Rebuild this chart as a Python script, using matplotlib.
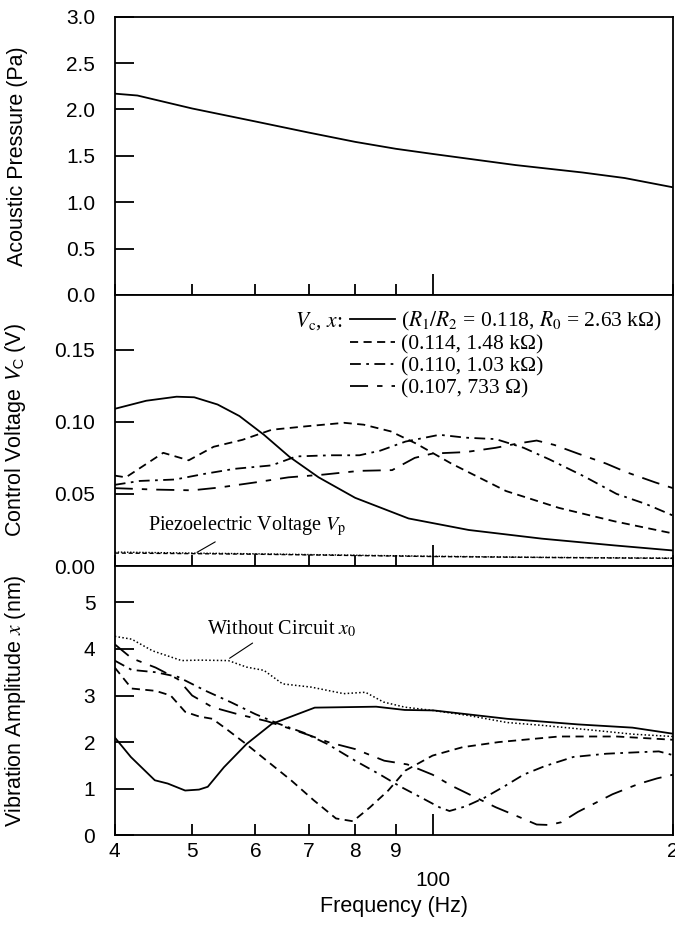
import matplotlib
matplotlib.use("Agg")
import matplotlib.pyplot as plt
from matplotlib.ticker import FixedLocator, FixedFormatter, FormatStrFormatter

plt.rcParams['font.family'] = ['Liberation Sans', 'DejaVu Sans']
plt.rcParams['mathtext.fontset'] = 'stix'

# ---- top panel: acoustic pressure
f_p = [40, 42.7, 50, 60, 70, 80, 90, 100, 127, 154, 174, 200]
pressure = [2.17, 2.15, 2.01, 1.87, 1.75, 1.65, 1.575, 1.52, 1.40, 1.32, 1.26, 1.16]

# ---- middle panel: control voltage for the four circuits
f_v1 = [40, 43.8, 47.8, 50.3, 53.8, 57.3, 61.5, 66.2, 72, 80, 93.3, 111, 137, 169, 200]
vc1 = [0.109, 0.1146, 0.1174, 0.117, 0.112, 0.104, 0.091, 0.0757, 0.0615, 0.0473,
       0.033, 0.025, 0.019, 0.0143, 0.0108]
f_v2 = [40, 41.3, 46, 49.5, 53.2, 57.8, 62.9, 69.8, 77.5, 82, 88.6, 95.3, 105.6, 123.6, 144, 169, 200]
vc2 = [0.0627, 0.0615, 0.0785, 0.0733, 0.0827, 0.0875, 0.0945, 0.097, 0.0993, 0.098,
       0.0934, 0.085, 0.071, 0.052, 0.0403, 0.031, 0.0226]
f_v3 = [40, 43, 47.6, 51.8, 56.5, 62.9, 67.5, 74.5, 81, 86, 92.5, 102, 110, 120, 130, 140, 155, 170, 185, 200]
vc3 = [0.0563, 0.059, 0.060, 0.0639, 0.0674, 0.0698, 0.076, 0.0768, 0.0768, 0.080,
       0.0863, 0.091, 0.089, 0.088, 0.082, 0.074, 0.062, 0.050, 0.043, 0.035]
f_v4 = [40, 45, 50, 54, 60, 66, 73, 81, 89, 95, 100, 110, 120, 128, 135, 142, 152, 165, 175, 190, 200]
vc4 = [0.054, 0.053, 0.0525, 0.0544, 0.058, 0.0615, 0.0634, 0.066, 0.0665, 0.075, 0.078,
       0.079, 0.082, 0.085, 0.087, 0.084, 0.078, 0.071, 0.065, 0.058, 0.054]
f_vp = [40, 50, 60, 80, 100, 140, 200]
vp_a = [0.0097, 0.0090, 0.0085, 0.0075, 0.0068, 0.0060, 0.0055]
vp_b = [0.0090, 0.0086, 0.0082, 0.0073, 0.0066, 0.0059, 0.0053]

# ---- bottom panel: vibration amplitude
f_x0 = [40, 42, 44.6, 48.5, 51, 55.5, 58.5, 61.5, 64.9, 70.5, 77.4, 82.4, 86.8, 92.3,
        100, 111, 124, 137, 160, 178, 200]
x0 = [4.27, 4.21, 3.96, 3.75, 3.76, 3.75, 3.61, 3.54, 3.25, 3.18, 3.04, 3.07, 2.86, 2.75,
      2.68, 2.57, 2.42, 2.36, 2.25, 2.17, 2.12]
f_x1 = [40, 41.9, 44.9, 46.6, 49, 51, 52.3, 54.8, 58.5, 62.9, 71.2, 85, 92.3, 100.3,
        124, 152, 178, 200]
x1 = [2.1, 1.68, 1.18, 1.11, 0.96, 0.98, 1.04, 1.46, 1.96, 2.39, 2.74, 2.76, 2.69, 2.68,
      2.5, 2.38, 2.31, 2.18]
f_x2 = [40, 42, 45, 47, 49, 51, 53, 55, 58.5, 62, 66.5, 71, 75.7, 79.5, 83.5, 88, 92.5,
        100, 109, 121, 144, 170, 200]
x2 = [3.6, 3.15, 3.1, 3.0, 2.65, 2.55, 2.5, 2.3, 1.95, 1.6, 1.18, 0.75, 0.36, 0.3, 0.6,
      0.96, 1.39, 1.71, 1.89, 2.0, 2.12, 2.12, 2.05]
f_x3 = [40, 42, 45, 48, 52, 56, 60, 64, 69, 74, 80, 86, 91, 97, 102, 105, 110, 116, 123,
        130, 138, 150, 165, 180, 192, 200]
x3 = [3.75, 3.55, 3.5, 3.4, 3.1, 2.85, 2.6, 2.4, 2.2, 1.95, 1.6, 1.3, 1.05, 0.8, 0.6,
      0.52, 0.62, 0.8, 1.05, 1.3, 1.48, 1.68, 1.75, 1.78, 1.8, 1.72]
f_x4 = [40, 42, 45, 48, 50, 53, 57, 62, 66, 70, 74, 80, 87, 93, 100, 106, 112, 120, 128,
        135, 140, 145, 152, 168, 181, 191, 200]
x4 = [4.1, 3.8, 3.6, 3.35, 3.0, 2.75, 2.6, 2.45, 2.3, 2.15, 2.0, 1.85, 1.6, 1.52, 1.3,
      1.05, 0.85, 0.6, 0.4, 0.23, 0.22, 0.28, 0.5, 0.88, 1.1, 1.22, 1.3]

legend_labels = ['($R_1/R_2$ = 0.118, $R_0$ = 2.63 k\u03a9)',
                 '(0.114, 1.48 k\u03a9)',
                 '(0.110, 1.03 k\u03a9)',
                 '(0.107, 733 \u03a9)']

styles = ['-', (0, (4.5, 3)), (0, (6, 3, 1.5, 3)), (0, (10, 5, 3, 5))]
serif = ['Liberation Serif', 'DejaVu Serif']

fig, (ax1, ax2, ax3) = plt.subplots(3, 1, figsize=(6.75, 9.27), dpi=100, sharex=True,
                                    gridspec_kw=dict(height_ratios=[278, 271, 269], hspace=0))
fig.subplots_adjust(left=0.170, right=0.997, top=0.982, bottom=0.099)

ax1.plot(f_p, pressure, color='k', lw=1.3)

lines = []
for fv, vv, ls in zip([f_v1, f_v2, f_v3, f_v4], [vc1, vc2, vc3, vc4], styles):
    ln, = ax2.plot(fv, vv, color='k', lw=1.3, linestyle=ls)
    lines.append(ln)
ax2.plot(f_vp, vp_a, color='k', lw=1.0, linestyle=(0, (1, 1.2)))
ax2.plot(f_vp, vp_b, color='k', lw=1.0, linestyle=(0, (3, 2)))

ax3.plot(f_x0, x0, color='k', lw=1.1, linestyle=(0, (1, 1.5)))
for fx, xx, ls in zip([f_x1, f_x2, f_x3, f_x4], [x1, x2, x3, x4], styles):
    ax3.plot(fx, xx, color='k', lw=1.3, linestyle=ls)

ax3.set_xscale('log')
ax3.set_xlim(40, 200)
ax3.xaxis.set_major_locator(FixedLocator([100]))
ax3.xaxis.set_major_formatter(FixedFormatter(['100']))
ax3.xaxis.set_minor_locator(FixedLocator([40, 50, 60, 70, 80, 90, 200]))
ax3.xaxis.set_minor_formatter(FixedFormatter(['4', '5', '6', '7', '8', '9', '2']))

ax1.set_ylim(0, 3.0)
ax1.set_yticks([0, 0.5, 1.0, 1.5, 2.0, 2.5, 3.0])
ax1.yaxis.set_major_formatter(FormatStrFormatter('%.1f'))
ax2.set_ylim(0, 0.188)
ax2.set_yticks([0, 0.05, 0.10, 0.15])
ax2.yaxis.set_major_formatter(FormatStrFormatter('%.2f'))
ax3.set_ylim(0, 5.78)
ax3.set_yticks([0, 1, 2, 3, 4, 5])

for ax in (ax1, ax2, ax3):
    for sp in ax.spines.values():
        sp.set_linewidth(1.3)
    ax.tick_params(which='both', direction='in', top=False, right=False, width=1.3,
                   labelsize=15)
    ax.tick_params(axis='y', length=14, pad=14)
    ax.tick_params(axis='x', which='major', length=15, pad=26)
    ax.tick_params(axis='x', which='minor', length=8, pad=5)
    ax.yaxis.set_label_coords(-0.155, 0.5)

ax1.set_ylabel('Acoustic Pressure (Pa)', fontsize=15.5)
ax2.set_ylabel('Control Voltage $V_{\\rm C}$ (V)', fontsize=15.5, math_fontfamily='stixsans')
ax3.set_ylabel('Vibration Amplitude $x$ (nm)', fontsize=15.5)
ax3.set_xlabel('Frequency (Hz)', fontsize=15.5, labelpad=4)

leg = ax2.legend(lines, legend_labels, loc='upper right', bbox_to_anchor=(1.008, 1.0),
                 frameon=False, handlelength=2.1, handletextpad=0.3, labelspacing=0.08,
                 borderaxespad=0.3, prop=dict(family=serif, size=15.5))
ax2.text(0.408, 0.905, '$V_{\\rm c}$, $x$:', transform=ax2.transAxes, ha='right',
         va='center', family=serif, fontsize=15.5)

ax2.annotate('Piezoelectric Voltage $V_{\\rm p}$', xy=(50.7, 0.0095), xytext=(44.0, 0.0245),
             ha='left', va='baseline', family=serif, fontsize=14.5,
             arrowprops=dict(arrowstyle='-', color='k', lw=0.8, relpos=(0.37, 0),
                             shrinkA=1, shrinkB=0))
ax3.annotate('Without Circuit $x_0$', xy=(55.7, 3.8), xytext=(52.2, 4.31),
             ha='left', va='baseline', family=serif, fontsize=14.5,
             arrowprops=dict(arrowstyle='-', color='k', lw=0.8, relpos=(0.34, 0),
                             shrinkA=1, shrinkB=0))

fig.savefig('out.png', dpi=100)
